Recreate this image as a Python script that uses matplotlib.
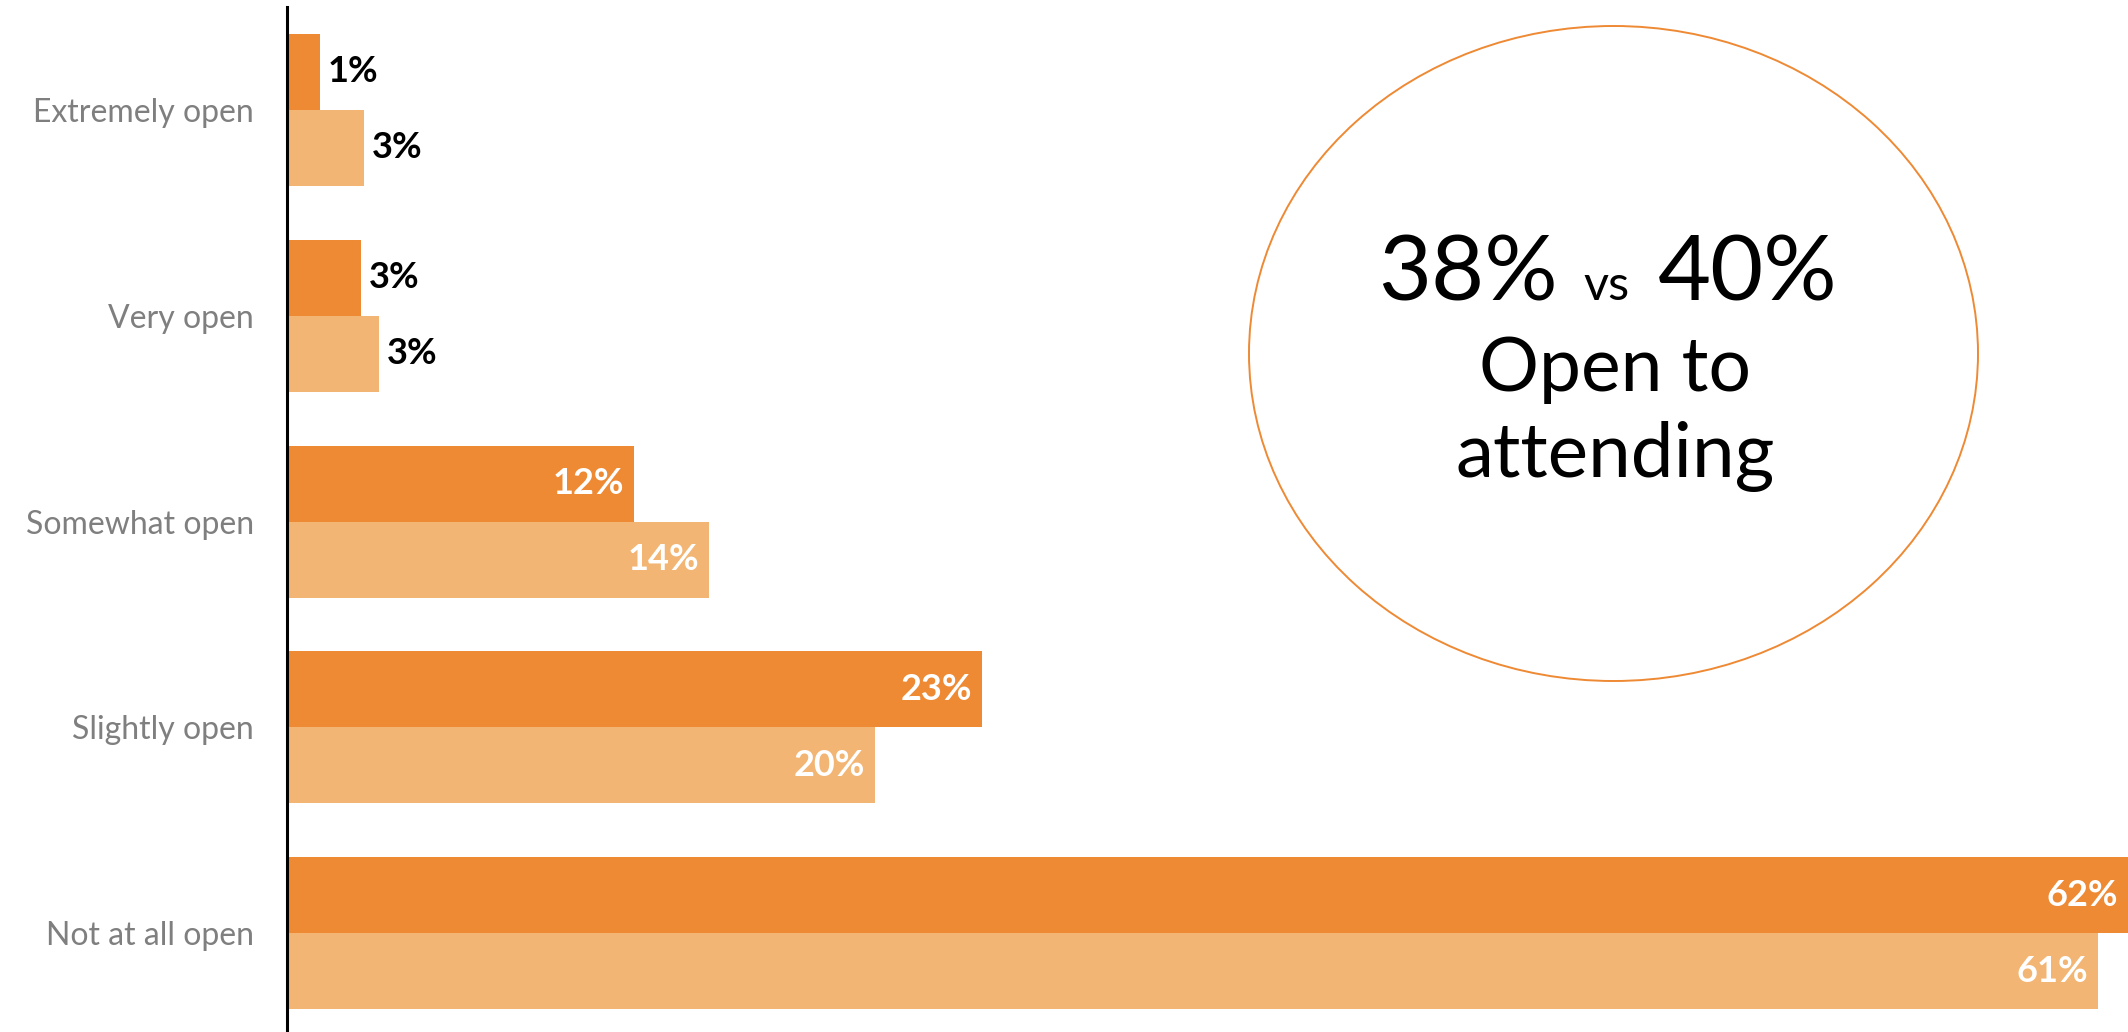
import matplotlib
matplotlib.use('Agg')
import numpy as np
import matplotlib.pyplot as plt
from matplotlib.patches import Ellipse

# datos
categorias = ['Extremely open', 'Very open', 'Somewhat open', 'Slightly open', 'Not at all open']
serie_a = [1.1, 2.5, 11.7, 23.4, 62.0]   # naranja oscuro
serie_b = [2.6, 3.1, 14.2, 19.8, 61.0]   # naranja claro
etiquetas_a = ['1%', '3%', '12%', '23%', '62%']
etiquetas_b = ['3%', '3%', '14%', '20%', '61%']

color_a = '#EE8934'
color_b = '#F2B573'
fuente = 'Lato'

fig = plt.figure(figsize=(21.28, 10.32), dpi=100)
ax = fig.add_axes([287/2128, 0, 1 - 287/2128, 1 - 7/1032])

y = np.arange(len(categorias))
alto = 0.369
ax.barh(y - alto/2, serie_a, height=alto, color=color_a)
ax.barh(y + alto/2, serie_b, height=alto, color=color_b)

for i in range(len(categorias)):
    for val, txt, pos in [(serie_a[i], etiquetas_a[i], y[i] - alto/2),
                          (serie_b[i], etiquetas_b[i], y[i] + alto/2)]:
        if val > 5:
            ax.text(val - 0.33, pos, txt, ha='right', va='center', color='white',
                    fontsize=26, fontweight='bold', family=fuente)
        else:
            ax.text(val + 0.27, pos, txt, ha='left', va='center', color='black',
                    fontsize=26, fontweight='bold', family=fuente)

ax.set_xlim(0, 62)
ax.set_ylim(4.48, -0.5)
ax.set_yticks(y)
ax.set_yticklabels(categorias, fontsize=23, color='#7F7F7F', family=fuente)
ax.tick_params(axis='y', length=0, pad=24)
ax.set_xticks([])
for s in ['top', 'right', 'bottom']:
    ax.spines[s].set_visible(False)
ax.spines['left'].set_linewidth(2.2)
ax.spines['left'].set_color('black')

# circulo con el resumen
W, H = 2128, 1032
circulo = Ellipse((1613.5/W, 1 - 353.5/H), 729/W, 655/H, transform=fig.transFigure,
                  fill=False, edgecolor=color_a, linewidth=1.4)
fig.patches.append(circulo)

fig.text(1558/W, 1 - 300/H, '38%', ha='right', va='baseline', fontsize=66, family=fuente)
fig.text(1607/W, 1 - 300/H, 'vs', ha='center', va='baseline', fontsize=35, family=fuente)
fig.text(1658/W, 1 - 300/H, '40%', ha='left', va='baseline', fontsize=66, family=fuente)
fig.text(1615/W, 1 - 391/H, 'Open to', ha='center', va='baseline', fontsize=54, family=fuente)
fig.text(1615/W, 1 - 477/H, 'attending', ha='center', va='baseline', fontsize=55, family=fuente)

plt.savefig('out.png', dpi=100)
